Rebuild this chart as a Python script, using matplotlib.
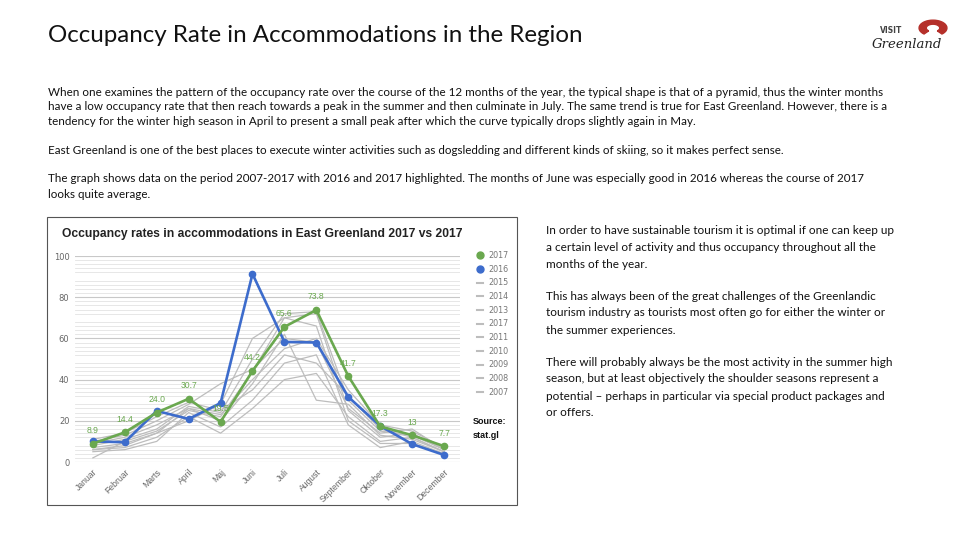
import matplotlib.pyplot as plt
from matplotlib.patches import Rectangle, Wedge
from matplotlib.lines import Line2D

# months (Danish, as in the chart)
months = ["Januar", "Februar", "Marts", "April", "Maj", "Juni", "Juli",
          "August", "September", "Oktober", "November", "December"]

y2017 = [8.9, 14.4, 24.0, 30.7, 19.5, 44.2, 65.6, 73.8, 41.7, 17.3, 13, 7.7]
y2016 = [10.0, 9.6, 24.8, 20.9, 28.6, 91.3, 58.3, 58.0, 31.6, 17.5, 8.7, 3.4]

# background years
y2015 = [11, 14, 22, 29, 25, 35, 52, 48, 32, 16, 12, 5]
y2014 = [10, 13, 20, 28, 38, 45, 60, 58, 26, 14, 16, 6]
y2013 = [9, 12, 18, 26, 23, 40, 55, 60, 35, 18, 15, 7]
y2012 = [6, 8, 14, 20, 28, 60, 70, 66, 20, 9, 9, 4]
y2011 = [8, 11, 16, 27, 24, 50, 72, 73, 30, 15, 13, 6]
y2010 = [2, 10, 15, 25, 22, 44, 70, 72, 25, 12, 14, 6]
y2009 = [7, 9, 14, 26, 20, 38, 62, 30, 28, 13, 11, 5]
y2008 = [5, 6, 10, 24, 17, 30, 48, 52, 18, 7, 10, 4]
y2007 = [6, 7, 12, 22, 14, 26, 40, 43, 22, 10, 12, 5]

grey_years = ["2015", "2014", "2013", "2012", "2011", "2010", "2009", "2008", "2007"]
grey_data = [y2015, y2014, y2013, y2012, y2011, y2010, y2009, y2008, y2007]
legend_labels = ["2017", "2016", "2015", "2014", "2013", "2017", "2011", "2010", "2009", "2008", "2007"]
label_text = ["8.9", "14.4", "24.0", "30.7", "19.5", "44.2", "65.6", "73.8", "41.7", "17.3", "13", "7.7"]

GREEN = "#6aa84f"
BLUE = "#3d6ccc"
GREY = "#bdbdbd"

W, H = 960, 540
fig = plt.figure(figsize=(9.6, 5.4), dpi=100)


def fx(x):
    return x / W


def fy(y):
    return 1 - y / H


# slide title
fig.text(fx(48), fy(35), "Occupancy Rate in Accommodations in the Region",
         family="Lato", fontsize=17.4, color="#111111", va="center", ha="left")

# logo (approximation)
fig.patches.append(Wedge((fx(933), fy(28)), 0.0145, -50, 230, width=0.0075,
                         color="#b5302a", transform=fig.transFigure))
fig.text(fx(880), fy(31), "VISIT", family="DejaVu Sans", fontsize=5.5,
         weight="bold", color="#444444", va="center")
fig.text(fx(872), fy(44), "Greenland", family="DejaVu Serif", fontsize=9.5,
         style="italic", color="#222222", va="center")

body = [
    (92, "When one examines the pattern of the occupancy rate over the course of the 12 months of the year, the typical shape is that of a pyramid, thus the winter months"),
    (107, "have a low occupancy rate that then reach towards a peak in the summer and then culminate in July. The same trend is true for East Greenland. However, there is a"),
    (122, "tendency for the winter high season in April to present a small peak after which the curve typically drops slightly again in May."),
    (150, "East Greenland is one of the best places to execute winter activities such as dogsledding and different kinds of skiing, so it makes perfect sense."),
    (179, "The graph shows data on the period 2007-2017 with 2016 and 2017 highlighted. The months of June was especially good in 2016 whereas the course of 2017"),
    (194, "looks quite average."),
]
for y, s in body:
    fig.text(fx(48), fy(y), s, family="Lato", fontsize=8.4, color="#111111",
             va="center", ha="left")

side = [
    (231, "In order to have sustainable tourism it is optimal if one can keep up"),
    (247, "a certain level of activity and thus occupancy throughout all the"),
    (264, "months of the year."),
    (297, "This has always been of the great challenges of the Greenlandic"),
    (313, "tourism industry as tourists most often go for either the winter or"),
    (330, "the summer experiences."),
    (363, "There will probably always be the most activity in the summer high"),
    (379, "season, but at least objectively the shoulder seasons represent a"),
    (396, "potential \u2013 perhaps in particular via special product packages and"),
    (412, "or offers."),
]
for y, s in side:
    fig.text(fx(546), fy(y), s, family="Lato", fontsize=8.45, color="#111111",
             va="center", ha="left")

# embedded chart frame
fig.patches.append(Rectangle((fx(47), fy(505)), fx(517 - 47), (505 - 217) / H,
                             fill=False, edgecolor="#555555", linewidth=0.8,
                             transform=fig.transFigure))
fig.text(fx(62), fy(234), "Occupancy rates in accommodations in East Greenland 2017 vs 2017",
         family="Liberation Sans", weight="bold", fontsize=8.7, color="#222222",
         va="center", ha="left")

ax = fig.add_axes([fx(75), fy(462), fx(460 - 75), (462 - 256) / H])
x = list(range(12))

for vals in grey_data:
    ax.plot(x, vals, color=GREY, linewidth=0.9, zorder=2)
ax.plot(x, y2016, color=BLUE, linewidth=1.9, marker="o", markersize=4.5, zorder=4)
ax.plot(x, y2017, color=GREEN, linewidth=1.9, marker="o", markersize=4.5, zorder=5)

for i, v in enumerate(y2017):
    ax.annotate(label_text[i], (i, v), xytext=(0, 13),
                textcoords="offset pixels", ha="center", va="center",
                fontsize=6.2, color=GREEN, family="Liberation Sans", zorder=6)

ax.set_xlim(-0.56, 11.5)
ax.set_ylim(0, 100)
ax.set_yticks([0, 20, 40, 60, 80, 100])
minor = [v for v in range(2, 100, 2) if v % 10 != 0]
ax.set_yticks(minor, minor=True)
ax.grid(axis="y", which="major", color="#c8c8c8", linewidth=0.8)
ax.grid(axis="y", which="minor", color="#e3e3e3", linewidth=0.6)
ax.set_axisbelow(True)
ax.set_xticks(x)
ax.set_xticklabels(months, rotation=45, ha="right", rotation_mode="anchor",
                   fontsize=6.2, color="#666666", family="Liberation Sans")
ax.tick_params(axis="y", which="both", labelsize=6, labelcolor="#666666", length=0, pad=4)
ax.tick_params(axis="x", length=0, pad=4)
for s in ax.spines.values():
    s.set_visible(False)
ax.patch.set_visible(False)

handles = [Line2D([], [], color=GREEN, marker="o", linestyle="none", markersize=5),
           Line2D([], [], color=BLUE, marker="o", linestyle="none", markersize=5)]
handles += [Line2D([], [], color=GREY, linewidth=1.5) for _ in grey_years]
leg = ax.legend(handles, legend_labels, loc="upper left",
                bbox_to_anchor=(fx(477), fy(251)), bbox_transform=fig.transFigure,
                frameon=False, fontsize=5.8, handlelength=0.8, handletextpad=0.6,
                labelspacing=0.58, borderpad=0, borderaxespad=0)
for t in leg.get_texts():
    t.set_color("#777777")

fig.text(fx(473), fy(422), "Source:", family="Liberation Sans", weight="bold",
         fontsize=6.5, color="#111111", va="center")
fig.text(fx(473), fy(436), "stat.gl", family="Liberation Sans", weight="bold",
         fontsize=6.5, color="#111111", va="center")

fig.savefig("out.png", dpi=100, facecolor="white")
